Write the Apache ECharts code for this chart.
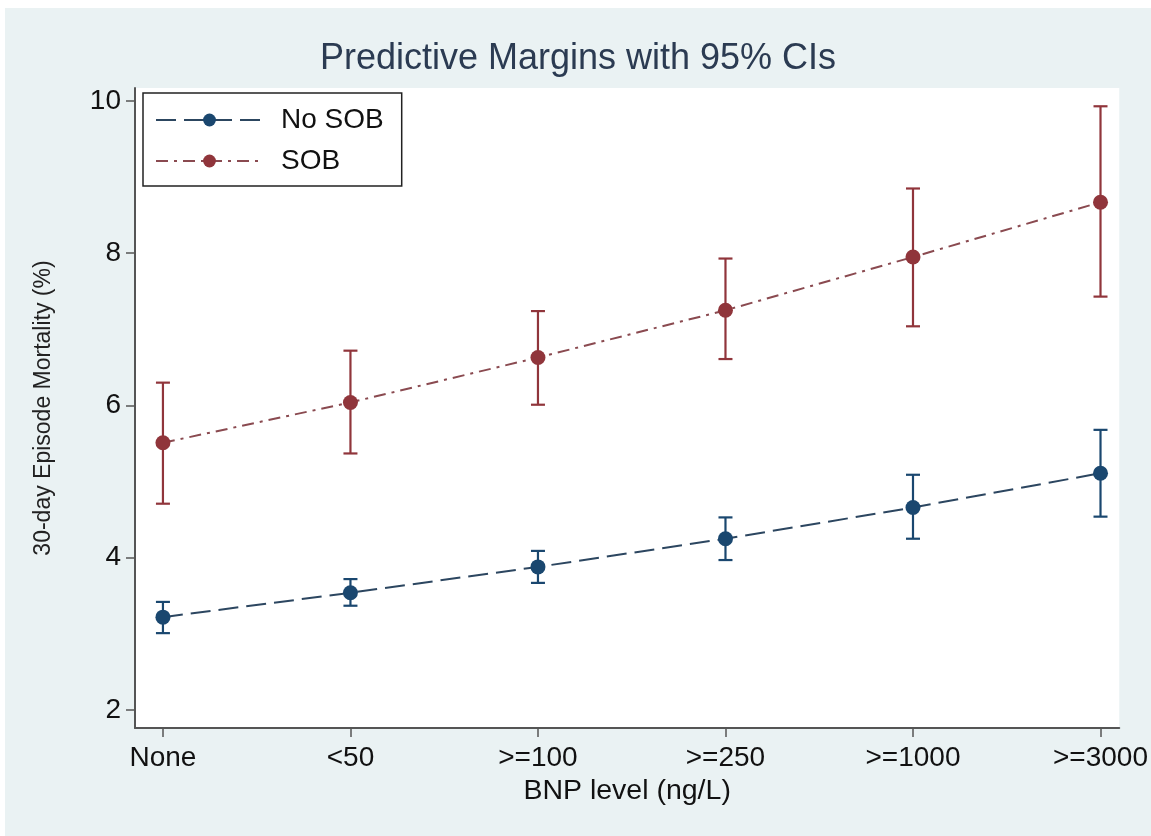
<!DOCTYPE html>
<html>
<head>
<meta charset="utf-8">
<script src="https://cdn.jsdelivr.net/npm/echarts@6/dist/echarts.min.js"></script>
<style>
  html, body { margin: 0; padding: 0; background: #fff; }
  #chart { position: absolute; left: 5px; top: 8px; width: 1146px; height: 828px; }
</style>
</head>
<body>
<div id="chart"></div>
<script>
// BNP categories, x positions 0..5
const categories = ['None', '<50', '>=100', '>=250', '>=1000', '>=3000']
const yTicks = [2, 4, 6, 8, 10]

// No SOB: margin and 95% CI
const noSob = [3.22, 3.54, 3.88, 4.25, 4.66, 5.11]
const noSobLow = [3.01, 3.37, 3.67, 3.97, 4.25, 4.54]
const noSobHigh = [3.42, 3.72, 4.09, 4.53, 5.09, 5.68]

// SOB: margin and 95% CI
const sob = [5.51, 6.04, 6.63, 7.25, 7.95, 8.67]
const sobLow = [4.71, 5.37, 6.01, 6.61, 7.04, 7.43]
const sobHigh = [6.30, 6.72, 7.24, 7.93, 8.85, 9.93]

const BLUE = '#1a476f'
const RED = '#90353b'
const FONT = '"Liberation Sans", Arial, sans-serif'

const chart = echarts.init(document.getElementById('chart'))

function ciSeries(low, high, color) {
  return {
    type: 'custom',
    silent: true,
    z: 1,
    data: low.map((v, i) => [i, v, high[i]]),
    renderItem(params, api) {
      const top = api.coord([api.value(0), api.value(2)])
      const bot = api.coord([api.value(0), api.value(1)])
      const cap = 7
      const style = { stroke: color, lineWidth: 2.2 }
      return {
        type: 'group',
        children: [
          { type: 'line', shape: { x1: top[0], y1: top[1], x2: bot[0], y2: bot[1] }, style },
          { type: 'line', shape: { x1: top[0] - cap, y1: top[1], x2: top[0] + cap, y2: top[1] }, style },
          { type: 'line', shape: { x1: bot[0] - cap, y1: bot[1], x2: bot[0] + cap, y2: bot[1] }, style },
        ],
      }
    },
  }
}

chart.setOption({
  backgroundColor: '#eaf2f3',
  animation: false,
  textStyle: { fontFamily: FONT },
  title: {
    text: 'Predictive Margins with 95% CIs',
    left: 'center',
    top: 28,
    textStyle: { color: '#2b3b52', fontSize: 36, fontWeight: 'normal', fontFamily: FONT },
  },
  legend: {
    orient: 'vertical',
    left: 138,
    top: 85,
    padding: [13, 18, 11, 12],
    itemWidth: 107,
    itemHeight: 16,
    itemGap: 13,
    backgroundColor: '#fff',
    borderColor: '#222',
    borderWidth: 1.5,
    borderRadius: 0,
    textStyle: { fontSize: 28, color: '#111', padding: [0, 0, 0, 13] },
    data: ['No SOB', 'SOB'],
  },
  grid: {
    left: 130, top: 80, right: 31, bottom: 108,
    show: true, backgroundColor: '#fff', borderWidth: 0,
  },
  xAxis: {
    type: 'value',
    min: -0.149, max: 5.1,
    name: 'BNP level (ng/L)',
    nameLocation: 'middle',
    nameGap: 49,
    nameTextStyle: { fontSize: 28.5, color: '#111' },
    axisLine: { onZero: false, lineStyle: { color: '#555', width: 2 } },
    axisTick: { show: true, length: 9, lineStyle: { color: '#555', width: 1.5 }, customValues: [0, 1, 2, 3, 4, 5] },
    axisLabel: {
      fontSize: 28, color: '#111', margin: 16,
      customValues: [0, 1, 2, 3, 4, 5],
      formatter: v => categories[Math.round(v)],
    },
    splitLine: { show: false },
  },
  yAxis: {
    type: 'value',
    min: 1.764, max: 10.17,
    name: '30-day Episode Mortality (%)',
    nameLocation: 'middle',
    nameGap: 80,
    nameRotate: 90,
    nameTextStyle: { fontSize: 23, color: '#222' },
    axisLine: { show: true, onZero: false, lineStyle: { color: '#555', width: 2 } },
    axisTick: { show: true, length: 9, lineStyle: { color: '#555', width: 1.5 }, customValues: yTicks },
    axisLabel: { fontSize: 28, color: '#111', margin: 14, customValues: yTicks },
    splitLine: { show: false },
  },
  series: [
    ciSeries(noSobLow, noSobHigh, BLUE),
    ciSeries(sobLow, sobHigh, RED),
    {
      name: 'No SOB',
      type: 'line',
      z: 3,
      data: noSob.map((v, i) => [i, v]),
      symbol: 'circle',
      symbolSize: 15,
      itemStyle: { color: BLUE },
      lineStyle: { color: '#2c4660', width: 2, type: [20, 8] },
    },
    {
      name: 'SOB',
      type: 'line',
      z: 3,
      data: sob.map((v, i) => [i, v]),
      symbol: 'circle',
      symbolSize: 15,
      itemStyle: { color: RED },
      lineStyle: { color: '#8a4a50', width: 2, type: [12, 6, 3, 6] },
    },
  ],
})
</script>
</body>
</html>
